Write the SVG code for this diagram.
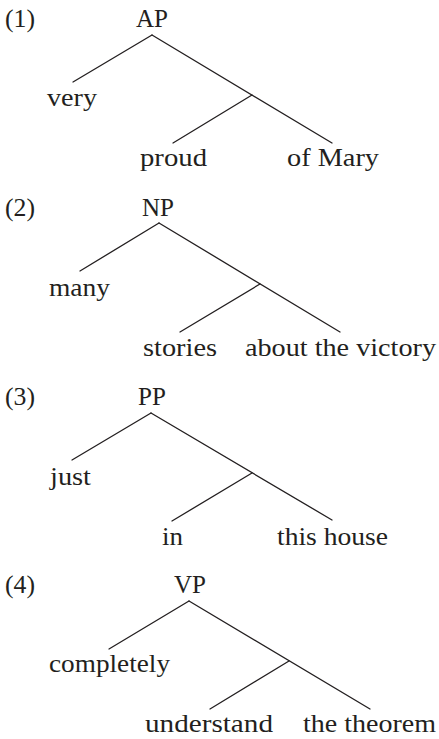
<svg xmlns="http://www.w3.org/2000/svg" width="439" height="739" viewBox="0 0 439 739">
  <style>
    text { font-family: "Liberation Serif", "Times New Roman", serif; font-size: 25px; fill: #231f20; }
    .cat { text-anchor: middle; }
    .edges line { stroke: #231f20; stroke-width: 1.3; stroke-linecap: round; }
  </style>
  <rect width="439" height="739" fill="#ffffff"/>

  <!-- tree branches -->
  <g id="connectors" class="edges">
    <!-- (1) AP -->
    <line x1="152" y1="35" x2="73" y2="82"/>
    <line x1="152" y1="35" x2="332" y2="143"/>
    <line x1="252" y1="95" x2="173" y2="143"/>
    <!-- (2) NP -->
    <line x1="159" y1="223" x2="80" y2="271"/>
    <line x1="159" y1="223" x2="340" y2="332"/>
    <line x1="260" y1="284" x2="180" y2="332"/>
    <!-- (3) PP -->
    <line x1="151" y1="413" x2="72" y2="460"/>
    <line x1="151" y1="413" x2="332" y2="520"/>
    <line x1="252" y1="473" x2="172" y2="521"/>
    <!-- (4) VP -->
    <line x1="189" y1="601" x2="109" y2="649"/>
    <line x1="189" y1="601" x2="370" y2="709"/>
    <line x1="289" y1="661" x2="210" y2="709"/>
  </g>

  <!-- example numbers -->
  <g id="ex1"><text x="5" y="27" textLength="30" lengthAdjust="spacingAndGlyphs">(1)</text></g>
  <g id="ex2"><text x="5" y="216" textLength="30" lengthAdjust="spacingAndGlyphs">(2)</text></g>
  <g id="ex3"><text x="5" y="405" textLength="30" lengthAdjust="spacingAndGlyphs">(3)</text></g>
  <g id="ex4"><text x="5" y="593" textLength="30" lengthAdjust="spacingAndGlyphs">(4)</text></g>

  <!-- (1) -->
  <g id="AP"><text class="cat" x="152" y="27">AP</text></g>
  <g id="very"><text x="47" y="106" textLength="50" lengthAdjust="spacingAndGlyphs">very</text></g>
  <g id="proud"><text x="140" y="166" textLength="67" lengthAdjust="spacingAndGlyphs">proud</text></g>
  <g id="of-mary"><text x="287" y="166" textLength="92" lengthAdjust="spacingAndGlyphs">of Mary</text></g>

  <!-- (2) -->
  <g id="NP"><text class="cat" x="158" y="216">NP</text></g>
  <g id="many"><text x="49" y="296" textLength="61" lengthAdjust="spacingAndGlyphs">many</text></g>
  <g id="stories"><text x="143" y="356" textLength="74" lengthAdjust="spacingAndGlyphs">stories</text></g>
  <g id="about-the-victory"><text x="245" y="356" textLength="191" lengthAdjust="spacingAndGlyphs">about the victory</text></g>

  <!-- (3) -->
  <g id="PP"><text class="cat" x="152" y="405">PP</text></g>
  <g id="just"><text x="50" y="485" textLength="41" lengthAdjust="spacingAndGlyphs">just</text></g>
  <g id="in"><text x="162" y="545" textLength="21" lengthAdjust="spacingAndGlyphs">in</text></g>
  <g id="this-house"><text x="277" y="545" textLength="111" lengthAdjust="spacingAndGlyphs">this house</text></g>

  <!-- (4) -->
  <g id="VP"><text class="cat" x="190" y="593">VP</text></g>
  <g id="completely"><text x="49" y="672" textLength="121" lengthAdjust="spacingAndGlyphs">completely</text></g>
  <g id="understand"><text x="145" y="732" textLength="128" lengthAdjust="spacingAndGlyphs">understand</text></g>
  <g id="the-theorem"><text x="303" y="732" textLength="133" lengthAdjust="spacingAndGlyphs">the theorem</text></g>
</svg>
